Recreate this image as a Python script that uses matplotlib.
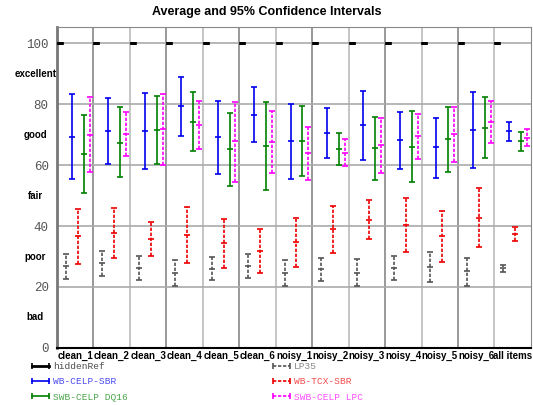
import matplotlib
matplotlib.use('Agg')
import matplotlib.pyplot as plt
from matplotlib.lines import Line2D
import numpy as np

groups = ['clean_1', 'clean_2', 'clean_3', 'clean_4', 'clean_5', 'clean_6',
          'noisy_1', 'noisy_2', 'noisy_3', 'noisy_4', 'noisy_5', 'noisy_6', 'all items']

# hiddenRef
ref_mean = [100, 100, 100, 100, 100, 100, 100, 100, 100, 100, 100, 100, 100]
ref_lo = [100, 100, 100, 100, 100, 100, 100, 100, 100, 100, 100, 100, 100]
ref_hi = [100, 100, 100, 100, 100, 100, 100, 100, 100, 100, 100, 100, 100]

# LP35
lp35_mean = [26.8, 27.8, 26.1, 24.7, 26.0, 26.8, 24.7, 25.8, 24.7, 26.2, 26.6, 25.1, 26.1]
lp35_lo = [22.7, 23.7, 22.3, 20.2, 22.3, 23.0, 20.2, 22.0, 20.3, 22.3, 21.6, 20.4, 24.8]
lp35_hi = [30.8, 31.7, 30.1, 29.0, 29.8, 30.7, 29.0, 29.5, 29.2, 30.2, 31.4, 29.6, 27.1]

# WB-CELP-SBR
wbcelp_mean = [69.3, 71.3, 71.3, 79.3, 69.1, 76.5, 67.9, 70.5, 73.1, 68.1, 65.8, 71.6, 71.3]
wbcelp_lo = [55.3, 60.3, 58.8, 69.7, 57.0, 67.5, 55.5, 62.2, 61.7, 58.7, 55.8, 59.0, 68.0]
wbcelp_hi = [83.3, 82.1, 83.8, 89.0, 81.0, 85.6, 80.1, 78.7, 84.4, 77.5, 75.6, 84.1, 74.3]

# WB-TCX-SBR
wbtcx_mean = [36.6, 37.8, 35.7, 37.2, 34.5, 31.9, 34.6, 38.9, 42.1, 40.3, 36.7, 42.7, 37.5]
wbtcx_lo = [27.5, 29.5, 30.2, 28.0, 26.2, 24.6, 26.4, 31.3, 35.7, 31.5, 28.3, 33.2, 35.2]
wbtcx_hi = [45.6, 46.0, 41.3, 46.1, 42.4, 39.1, 42.7, 46.7, 48.4, 49.3, 45.1, 52.4, 39.7]

# SWB-CELP DQ16
dq16_mean = [63.6, 67.4, 71.6, 74.2, 65.2, 66.2, 68.0, 65.3, 65.5, 66.1, 68.5, 72.2, 68.0]
dq16_lo = [50.8, 56.0, 60.4, 64.5, 53.2, 51.7, 56.5, 60.2, 55.0, 54.3, 57.7, 62.3, 64.7]
dq16_hi = [76.4, 79.0, 82.6, 83.9, 77.0, 80.8, 79.5, 70.4, 75.9, 77.9, 79.2, 82.3, 70.9]

# SWB-CELP LPC
lpc_mean = [70.0, 70.2, 71.7, 73.1, 67.9, 67.5, 64.0, 64.0, 66.6, 69.5, 70.2, 74.2, 68.9]
lpc_lo = [57.6, 63.0, 60.0, 65.3, 54.6, 57.4, 55.2, 59.7, 57.3, 62.1, 61.0, 67.2, 66.3]
lpc_hi = [82.4, 77.3, 83.5, 81.0, 80.8, 77.7, 72.6, 68.6, 75.5, 76.8, 79.2, 81.1, 71.7]

quality_labels = ['bad', 'poor', 'fair', 'good', 'excellent']
quality_pos = [10, 30, 50, 70, 90]

series = [
    ('hiddenRef', ref_mean, ref_lo, ref_hi, 'black', '-'),
    ('LP35', lp35_mean, lp35_lo, lp35_hi, '#555555', (0, (2, 1))),
    ('WB-CELP-SBR', wbcelp_mean, wbcelp_lo, wbcelp_hi, '#0000ee', '-'),
    ('WB-TCX-SBR', wbtcx_mean, wbtcx_lo, wbtcx_hi, '#ee0000', (0, (2, 1))),
    ('SWB-CELP DQ16', dq16_mean, dq16_lo, dq16_hi, '#008000', '-'),
    ('SWB-CELP LPC', lpc_mean, lpc_lo, lpc_hi, '#ff00ff', (0, (2, 1))),
]

sans = 'Liberation Sans'

fig = plt.figure(figsize=(5.33, 4.05), dpi=100)
ax = fig.add_axes([0.107, 0.141, 0.889, 0.792])

x = np.arange(len(groups))
handles = {}
for k, (name, mean, lo, hi, color, ls) in enumerate(series):
    mean = np.array(mean)
    yerr = [mean - np.array(lo), np.array(hi) - mean]
    pos = x + 0.08 + k * 0.163
    lw = 2.0 if k == 0 else 1.2
    eb = ax.errorbar(pos, mean, yerr=yerr, fmt='_', color=color, ecolor=color,
                     elinewidth=lw, capsize=2, capthick=lw, markersize=5,
                     markeredgewidth=lw, zorder=3)
    eb[2][0].set_linestyle(ls)
    handles[name] = Line2D([], [], color=color, ls=ls, lw=lw, marker='|',
                           markersize=5, markeredgewidth=1.2)

ax.set_xlim(0, len(groups))
ax.set_ylim(0, 105.3)
ax.set_yticks([0, 20, 40, 60, 80, 100])
ax.set_yticklabels(['0', '20', '40', '60', '80', '100'], family='Liberation Mono',
                   fontsize=9, color='#555555')
ax.tick_params(axis='y', length=0, pad=6)

ax.set_xticks(x, minor=False)
ax.set_xticklabels([])
ax.set_xticks(x + 0.5, minor=True)
ax.set_xticklabels(groups, minor=True, fontsize=7, fontweight='bold', family=sans)
ax.tick_params(axis='x', which='both', length=0, pad=2)

ax.grid(axis='y', color='#aaaaaa', lw=1.2)
for i in range(1, len(groups)):
    ax.axvline(i, color='#888888' if i % 2 else '#bbbbbb', lw=1.2, zorder=1)

for sp in ['top', 'right']:
    ax.spines[sp].set_color('#888888')
ax.spines['left'].set_color('#777777')
ax.spines['left'].set_linewidth(2)
ax.spines['bottom'].set_color('black')
ax.spines['bottom'].set_linewidth(1.5)

for lab, pos in zip(quality_labels, quality_pos):
    ax.text(-0.046, pos, lab, transform=ax.get_yaxis_transform(), ha='center',
            va='center', fontsize=7, fontweight='bold', family=sans)

fig.suptitle('Average and 95% Confidence Intervals', fontsize=9, fontweight='bold',
             family=sans, y=0.985)

order = ['hiddenRef', 'WB-CELP-SBR', 'SWB-CELP DQ16', 'LP35', 'WB-TCX-SBR', 'SWB-CELP LPC']
leg = fig.legend([handles[n] for n in order], order, ncol=2, loc='upper left',
                 bbox_to_anchor=(0.045, 0.117), frameon=False, numpoints=2,
                 prop={'family': 'Liberation Mono', 'size': 6.8},
                 labelcolor='linecolor', handlelength=2.4, handletextpad=0.2,
                 columnspacing=15.0, labelspacing=0.65, borderpad=0)
for t in leg.get_texts():
    t.set_alpha(0.7)

fig.savefig('out.png', dpi=100)
